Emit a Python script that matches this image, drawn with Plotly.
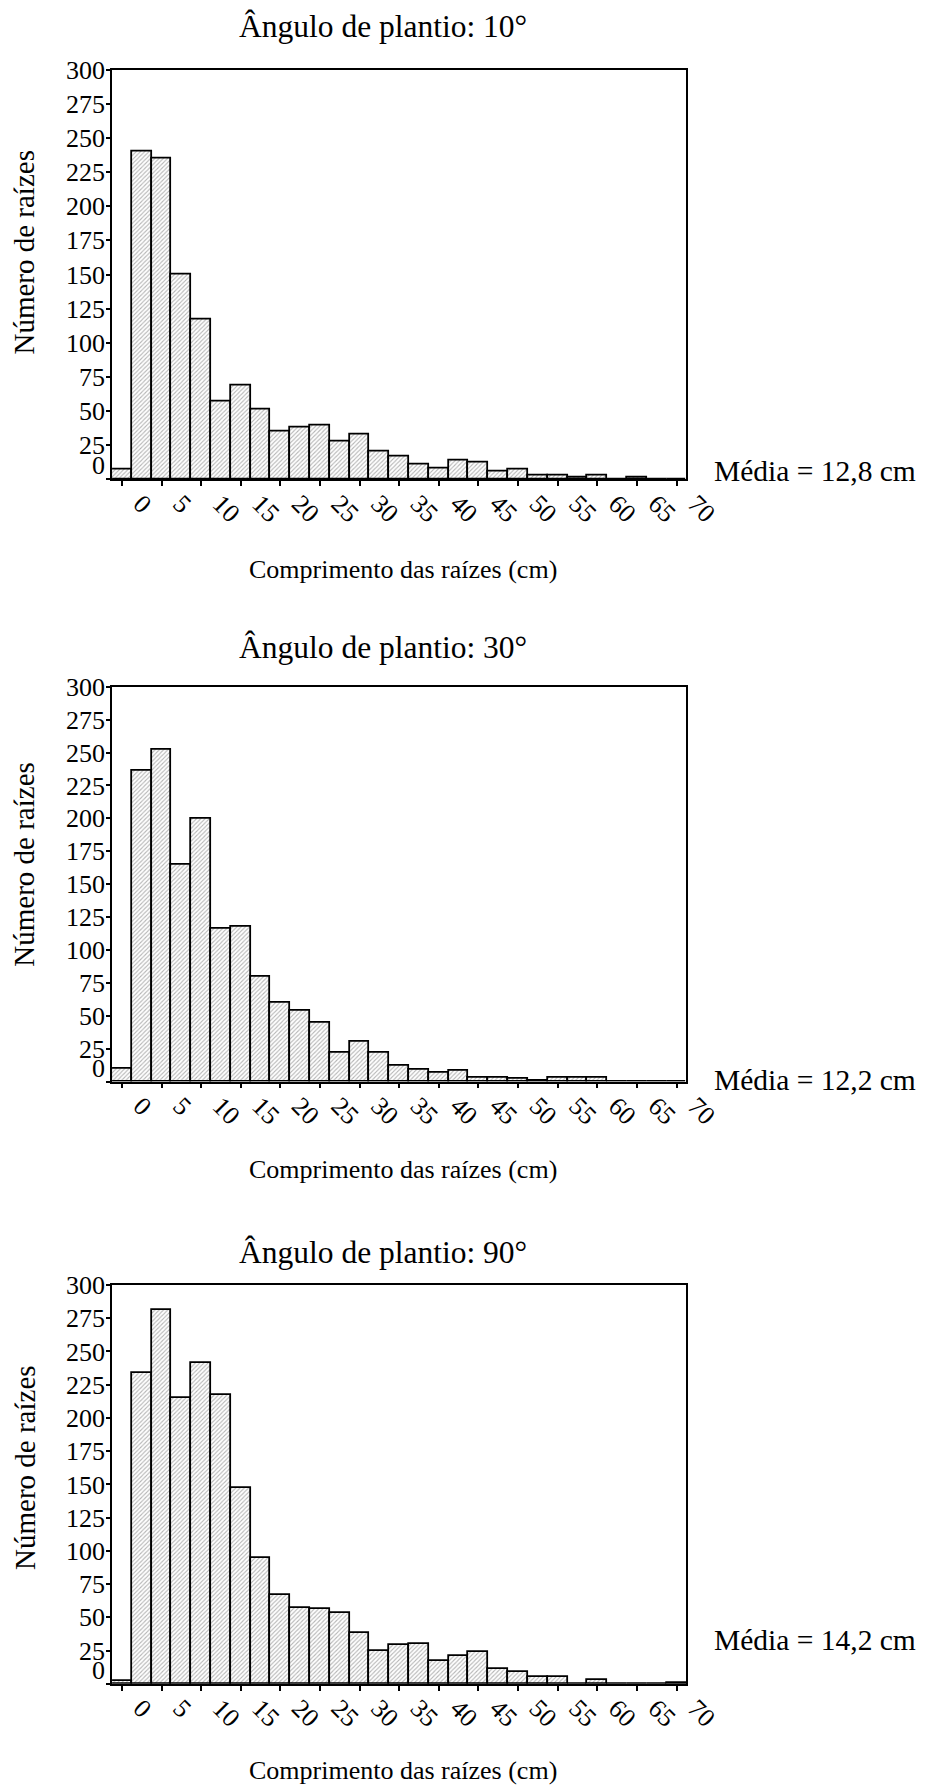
import plotly.graph_objects as go

# ---- data ----
bin_centers = [0, 2.5, 5, 7.5, 10, 12.5, 15, 17.5, 20, 22.5, 25, 27.5, 30, 32.5, 35,
               37.5, 40, 42.5, 45, 47.5, 50, 52.5, 55, 57.5, 60, 62.5, 65, 67.5, 70]
counts_10 = [7, 240, 235, 150, 117, 57, 69, 51, 35, 38, 39, 28, 33, 20, 17,
             11, 8, 14, 12, 6, 7, 3, 3, 1, 3, 0, 1, 0, 0]
counts_30 = [10, 236, 252, 165, 200, 116, 118, 80, 60, 54, 45, 22, 30, 22, 12,
             9, 7, 8, 3, 3, 2, 1, 3, 3, 3, 0, 0, 0, 0]
counts_90 = [2, 234, 281, 215, 241, 217, 147, 95, 67, 57, 56, 53, 38, 25, 29,
             30, 17, 21, 24, 11, 9, 5, 5, 0, 3, 0, 0, 0, 1]
titles = ["Ângulo de plantio: 10°", "Ângulo de plantio: 30°", "Ângulo de plantio: 90°"]
means = ["Média = 12,8 cm", "Média = 12,2 cm", "Média = 14,2 cm"]
x_ticks = [0, 5, 10, 15, 20, 25, 30, 35, 40, 45, 50, 55, 60, 65, 70]
y_ticks = [25, 50, 75, 100, 125, 150, 175, 200, 225, 250, 275, 300]
x_title = "Comprimento das raízes (cm)"
y_title = "Número de raízes"

W, H = 935, 1785
FONT = "Liberation Serif, Times New Roman, serif"

# layout in pixels: frame (left, right, top, bottom), title y, x-title y, mean y, y-title y
frames = [(108, 704, 48, 461), (108, 704, 670, 1068), (108, 704, 1273, 1675)]
title_y = [5, 630, 1240]
title_x = 389
xtitle_y = [552, 1157, 1762]
xtitle_x = 410
mean_y = [453, 1066, 1631]
mean_x = 731
ytitle_y = [232, 849, 1457]

fig = go.Figure()
series = [counts_10, counts_30, counts_90]

for i, (counts, (l, r, t, b)) in enumerate(zip(series, frames)):
    n = i + 1
    xa = "x" if n == 1 else f"x{n}"
    ya = "y" if n == 1 else f"y{n}"
    fig.add_trace(go.Bar(
        x=bin_centers, y=counts, width=2.5, xaxis=xa, yaxis=ya,
        marker=dict(color="white", line=dict(color="black", width=1.8),
                    pattern=dict(shape="/", size=3, solidity=0.35,
                                 fgcolor="#6a6a6a", bgcolor="white")),
        showlegend=False, hoverinfo="x+y"))
    xd = [l / W, r / W]
    yd = [1 - b / H, 1 - t / H]
    fig.layout[f"xaxis{'' if n == 1 else n}"] = dict(
        domain=xd, anchor=ya, range=[-1.25, 71.25], tickvals=x_ticks,
        tickangle=45, ticks="outside", ticklen=5, tickwidth=1.5, tickcolor="black",
        ticklabelshift=19, ticklabelstandoff=-8,
        showline=True, linecolor="black", linewidth=1.6, mirror=True,
        showgrid=False, zeroline=False,
        tickfont=dict(family=FONT, size=26, color="black"))
    fig.layout[f"yaxis{'' if n == 1 else n}"] = dict(
        domain=yd, anchor=xa, range=[0, 300], tickvals=[0] + y_ticks,
        ticktext=[""] + [str(v) for v in y_ticks],
        ticks="outside", ticklen=4, tickwidth=1.5, tickcolor="black",
        ticklabelstandoff=-4,
        showline=True, linecolor="black", linewidth=1.6, mirror=True,
        showgrid=False, zeroline=False,
        tickfont=dict(family=FONT, size=26, color="black"))
    # title
    fig.add_annotation(text=titles[i], x=title_x / W, y=1 - title_y[i] / H, xref="paper", yref="paper",
                       showarrow=False, font=dict(family=FONT, size=31.5, color="black"),
                       xanchor="center", yanchor="middle")
    # x title
    fig.add_annotation(text=x_title, x=xtitle_x / W, y=1 - xtitle_y[i] / H, xref="paper", yref="paper",
                       showarrow=False, font=dict(family=FONT, size=26, color="black"),
                       xanchor="center", yanchor="middle")
    # y title
    fig.add_annotation(text=y_title, x=17 / W, y=1 - ytitle_y[i] / H,
                       xref="paper", yref="paper", textangle=-90,
                       showarrow=False, font=dict(family=FONT, size=29, color="black"),
                       xanchor="center", yanchor="middle")
    # "0" label (placed slightly above the axis, as in the original)
    fig.add_annotation(text="0", x=(l - 5) / W, y=10, xref="paper", yref=ya,
                       showarrow=False, font=dict(family=FONT, size=26, color="black"),
                       xanchor="right", yanchor="middle")
    # mean
    fig.add_annotation(text=means[i], x=mean_x / W, y=1 - mean_y[i] / H, xref="paper", yref="paper",
                       showarrow=False, font=dict(family=FONT, size=29.5, color="black"),
                       xanchor="left", yanchor="middle")

fig.update_layout(width=W, height=H, margin=dict(l=0, r=0, t=0, b=0),
                  paper_bgcolor="white", plot_bgcolor="white", bargap=0,
                  font=dict(family=FONT, color="black"))
fig.write_html("out.html")
